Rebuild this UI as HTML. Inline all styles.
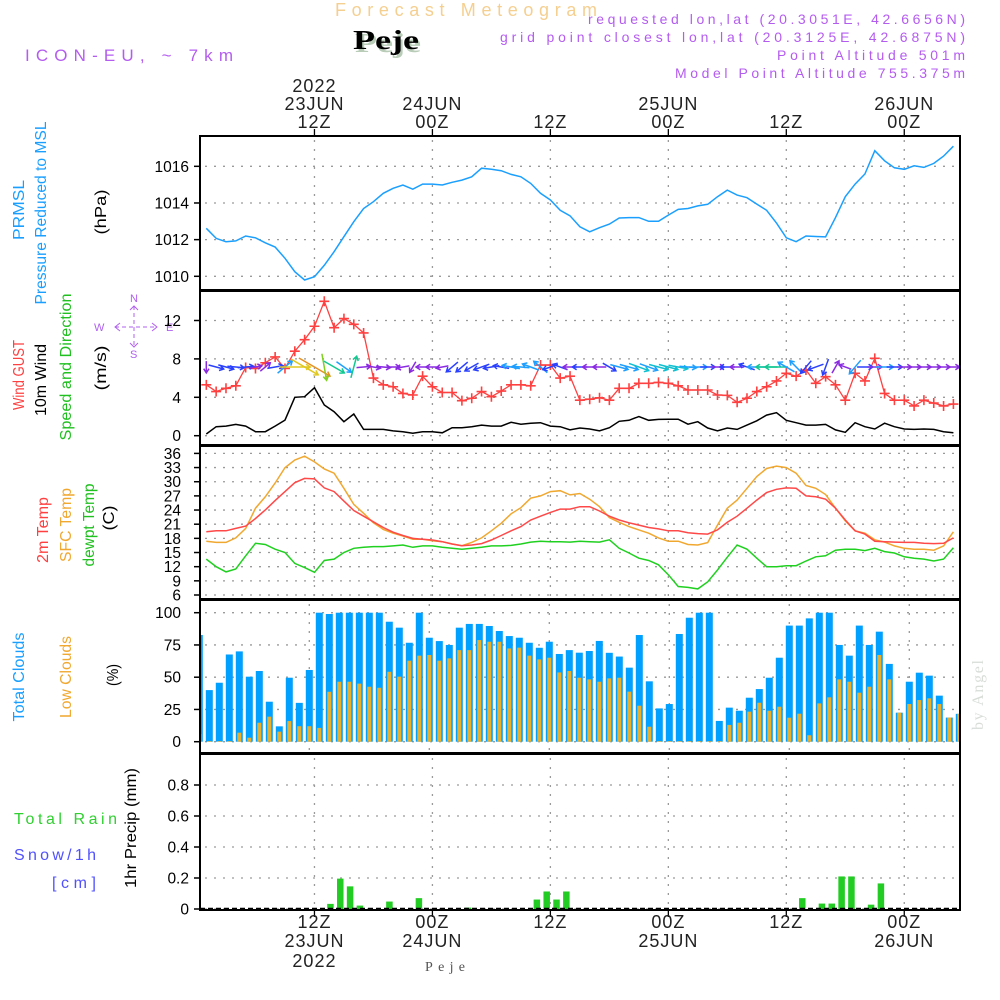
<!DOCTYPE html>
<html><head><meta charset="utf-8"><title>Forecast Meteogram Peje</title>
<style>
html,body{margin:0;padding:0;background:#fff;}
svg{display:block;font-family:"Liberation Sans","DejaVu Sans",sans-serif;}
</style></head>
<body>
<svg id="chart" width="1000" height="1000" viewBox="0 0 1000 1000" xmlns="http://www.w3.org/2000/svg">
<defs>
<clipPath id="cp1"><rect x="200" y="136" width="760" height="154"/></clipPath>
<clipPath id="cp2"><rect x="200" y="291" width="760" height="154"/></clipPath>
<clipPath id="cp3"><rect x="200" y="446" width="760" height="153"/></clipPath>
<clipPath id="cp4"><rect x="201" y="600" width="758" height="153"/></clipPath>
<clipPath id="cp5"><rect x="200" y="754" width="760" height="156"/></clipPath>
</defs>
<!-- header -->
<text x="335" y="16" font-size="18" fill="#f5cf90" textLength="262" lengthAdjust="spacing">Forecast Meteogram</text>
<text x="355" y="52" font-family="Liberation Serif,serif" font-weight="bold" font-size="27" fill="#b8ccb8" textLength="66" lengthAdjust="spacingAndGlyphs">Peje</text>
<text x="353" y="49" font-family="Liberation Serif,serif" font-weight="bold" font-size="27" fill="#000" textLength="66" lengthAdjust="spacingAndGlyphs">Peje</text>
<text x="25" y="61" font-size="17" fill="#b45cf0" textLength="208" lengthAdjust="spacing">ICON-EU, ~ 7km</text>
<g fill="#b45cf0" font-size="14" text-anchor="end">
<text x="965" y="24" textLength="377" lengthAdjust="spacing">requested lon,lat (20.3051E, 42.6656N)</text>
<text x="965" y="42" textLength="465" lengthAdjust="spacing">grid point closest lon,lat (20.3125E, 42.6875N)</text>
<text x="965" y="60" textLength="188" lengthAdjust="spacing">Point Altitude 501m</text>
<text x="965" y="78" textLength="290" lengthAdjust="spacing">Model Point Altitude 755.375m</text>
</g>
<!-- left labels -->
<g font-size="16" text-anchor="middle">
<text transform="translate(24,210) rotate(-90)" fill="#1a9fff" textLength="60" lengthAdjust="spacingAndGlyphs">PRMSL</text>
<text transform="translate(46,213) rotate(-90)" fill="#1a9fff" textLength="183" lengthAdjust="spacingAndGlyphs">Pressure Reduced to MSL</text>
<text transform="translate(106,212) rotate(-90)" fill="#000" textLength="45" lengthAdjust="spacingAndGlyphs">(hPa)</text>
<text transform="translate(24,375) rotate(-90)" fill="#ff4040" textLength="70" lengthAdjust="spacingAndGlyphs">Wind GUST</text>
<text transform="translate(46,380) rotate(-90)" fill="#000" textLength="72" lengthAdjust="spacingAndGlyphs">10m Wind</text>
<text transform="translate(71,367) rotate(-90)" fill="#20c020" textLength="147" lengthAdjust="spacingAndGlyphs">Speed and Direction</text>
<text transform="translate(106,368) rotate(-90)" fill="#000" textLength="45" lengthAdjust="spacingAndGlyphs">(m/s)</text>
<text transform="translate(48,530) rotate(-90)" fill="#ff4040" textLength="66" lengthAdjust="spacingAndGlyphs">2m Temp</text>
<text transform="translate(71,525) rotate(-90)" fill="#f0a830" textLength="74" lengthAdjust="spacingAndGlyphs">SFC Temp</text>
<text transform="translate(94,525) rotate(-90)" fill="#20c020" textLength="83" lengthAdjust="spacingAndGlyphs">dewpt Temp</text>
<text transform="translate(114,518) rotate(-90)" fill="#000" textLength="25" lengthAdjust="spacingAndGlyphs">(C)</text>
<text transform="translate(24,677) rotate(-90)" fill="#1a9fff" textLength="89" lengthAdjust="spacingAndGlyphs">Total Clouds</text>
<text transform="translate(71,677) rotate(-90)" fill="#f0a830" textLength="82" lengthAdjust="spacingAndGlyphs">Low Clouds</text>
<text transform="translate(118,675) rotate(-90)" fill="#000" textLength="22" lengthAdjust="spacingAndGlyphs">(%)</text>
<text transform="translate(136,828) rotate(-90)" fill="#000" textLength="120" lengthAdjust="spacingAndGlyphs">1hr Precip (mm)</text>
</g>
<text x="14" y="824" font-size="16" fill="#30d030" textLength="103" lengthAdjust="spacing">Total   Rain</text>
<text x="14" y="860" font-size="16" fill="#5050ff" textLength="82" lengthAdjust="spacing">Snow/1h</text>
<text x="52" y="888" font-size="16" fill="#5050ff" textLength="44" lengthAdjust="spacing">[cm]</text>
<!-- compass -->
<g fill="#b060f0" stroke="#b060f0" font-size="11">
<text x="130" y="302" stroke="none">N</text>
<text x="94" y="331" stroke="none">W</text>
<text x="166" y="331" stroke="none">E</text>
<text x="130" y="358" stroke="none">S</text>
<line x1="115" y1="327" x2="157" y2="327" stroke-width="1" stroke-dasharray="4,3"/>
<line x1="134" y1="306" x2="134" y2="347" stroke-width="1" stroke-dasharray="4,3"/>
<polyline points="120,323 115,327 120,331" fill="none" stroke-width="1"/>
<polyline points="152,323 157,327 152,331" fill="none" stroke-width="1"/>
<polyline points="130,310 134,306 138,310" fill="none" stroke-width="1"/>
<polyline points="130,343 134,347 138,343" fill="none" stroke-width="1"/>
</g>
<text transform="translate(983,730) rotate(-90)" font-family="Liberation Serif,serif" font-size="16" fill="#d8ddd8" textLength="70" lengthAdjust="spacing">by Angel</text>
<text x="425" y="971" font-family="Liberation Serif,serif" font-size="14" fill="#555" textLength="40" lengthAdjust="spacing">Peje</text>
<g id="grid"></g>
<g id="marks"></g>
<g id="frames"></g>
<g id="labels"></g>
</svg>
<script>
// ---- data (hourly, h = 1..77 from 23JUN 00Z) ----
const pressure = [1012.62,1012.07,1011.89,1011.93,1012.2,1012.1,1011.83,1011.6,1010.98,1010.25,1009.8,1009.98,1010.6,1011.34,1012.16,1012.98,1013.7,1014.07,1014.53,1014.8,1014.98,1014.75,1015.03,1015.03,1014.98,1015.13,1015.25,1015.43,1015.9,1015.84,1015.76,1015.56,1015.43,1015.07,1014.53,1014.16,1013.6,1013.3,1012.7,1012.43,1012.65,1012.85,1013.18,1013.2,1013.2,1013.0,1013.0,1013.34,1013.65,1013.7,1013.84,1013.93,1014.34,1014.7,1014.43,1014.29,1013.94,1013.6,1012.9,1012.1,1011.89,1012.2,1012.17,1012.15,1013.2,1014.34,1015.03,1015.58,1016.85,1016.3,1015.92,1015.84,1016.03,1015.94,1016.16,1016.56,1017.1];
const windSpeed = [0.18,0.94,1.0,1.18,1.0,0.42,0.42,1.0,1.63,4.0,4.06,5.0,3.2,2.5,1.46,2.26,0.66,0.66,0.66,0.5,0.42,0.25,0.42,0.42,0.3,0.83,0.83,0.94,1.1,1.0,1.0,1.4,1.2,1.3,1.35,1.0,0.94,0.6,0.8,0.7,0.5,0.83,1.5,1.6,2.0,1.6,1.7,1.72,1.72,1.2,1.46,0.8,0.5,0.8,0.66,1.1,1.55,2.15,2.4,1.6,1.35,1.1,1.1,1.18,0.6,0.35,1.35,0.94,0.7,1.3,0.94,0.7,0.66,0.7,0.66,0.42,0.3];
const windDir = [90,15,15,5,-5,-10,-40,-10,-40,0,30,30,80,30,35,-75,-5,10,5,0,170,120,180,180,170,140,140,150,160,170,190,190,185,200,220,160,200,180,180,180,180,30,15,15,20,20,15,15,10,5,0,0,0,180,180,200,180,180,180,210,225,130,160,110,-60,200,130,0,0,0,0,0,0,0,0,0,0];
const windGust = [5.3,4.6,4.94,5.2,7.1,7.0,7.6,8.2,7.0,8.8,10.0,11.4,14.0,11.25,12.2,11.6,10.7,6.0,5.3,5.1,4.4,4.24,6.2,5.1,4.5,4.5,3.65,3.9,4.6,4.06,4.65,5.3,5.3,5.2,7.36,7.36,6.0,6.2,3.7,3.8,3.95,3.7,4.94,4.94,5.46,5.46,5.55,5.46,5.2,4.76,4.76,4.76,4.24,4.2,3.48,3.9,4.6,5.1,5.7,6.5,6.2,6.84,5.46,6.15,5.3,3.7,6.5,5.7,8.06,4.4,3.7,3.7,3.1,3.7,3.4,3.1,3.3];
const temp2m = [19.4,19.6,19.6,20.1,20.6,22.2,24.0,26.0,27.9,29.8,30.7,30.6,28.7,27.9,25.9,23.9,22.7,21.5,20.3,19.3,18.6,18.0,17.8,17.65,17.3,16.8,16.45,16.6,16.9,17.65,18.6,19.6,20.5,21.9,22.7,23.5,24.2,24.2,24.7,24.7,23.8,22.7,21.9,21.3,20.8,20.3,20.0,19.6,19.6,19.2,19.0,18.9,19.8,21.4,22.7,24.4,26.1,27.7,28.4,28.7,28.6,27.0,26.8,26.3,24.4,21.9,19.6,18.9,17.4,17.3,17.2,17.15,17.15,16.95,16.9,16.95,18.1];
const sfcTemp = [17.4,17.15,17.15,18.1,20.1,24.4,26.8,29.7,33.0,34.6,35.4,34.2,32.7,31.8,28.6,25.2,23.3,21.3,19.9,19.1,18.5,17.8,17.8,17.5,17.3,16.8,16.45,17.15,18.1,19.6,21.2,23.2,24.5,26.5,27.0,27.9,28.1,27.2,27.5,26.3,24.7,22.4,21.4,20.5,19.8,19.1,18.1,17.4,17.4,16.7,16.6,17.1,20.8,24.4,26.1,28.6,31.1,32.8,33.3,33.0,31.8,29.2,28.6,27.3,24.4,21.7,19.6,19.1,17.7,17.2,16.4,15.9,15.7,15.7,15.5,16.4,19.4];
const dewpoint = [13.6,12.0,10.9,11.5,14.3,16.95,16.7,15.7,15.0,12.7,11.8,10.8,13.3,13.6,15.0,15.9,16.1,16.25,16.25,16.4,16.6,16.1,16.4,16.4,16.1,15.9,15.7,15.9,16.1,16.4,16.4,16.5,16.8,17.2,17.4,17.3,17.3,17.2,17.4,17.3,17.2,17.7,15.9,14.9,13.8,13.3,12.4,10.3,7.8,7.6,7.3,8.8,11.3,14.0,16.6,15.7,13.8,12.0,12.0,12.2,12.2,13.2,14.1,14.3,15.5,15.7,15.7,15.4,15.9,15.2,14.9,14.1,13.8,13.6,13.2,13.6,16.0];
const totalClouds = [82.7,40,45.7,67.6,70,50.4,54.8,31,11.9,49.6,30.1,55.6,100,99,100,100,100,100,100,93,88.4,76.7,100,80.6,78,75,88.4,91.3,91.3,89.7,85.8,81.9,80.6,76.7,72.8,77.5,68,71,69,70.3,78.1,68.9,66,57.4,82.7,46.8,25.8,29.2,83.5,96.1,100,100,16.1,26.4,24,34.1,40.8,49.6,65.1,90,90,95.6,100,100,75,66.7,90,75,85.3,60.3,22.5,46.5,53.5,51.2,35.7,18.7,21.6];
const lowClouds = [5.9,0.5,0.5,0.5,7,3.1,14.7,19.4,7.8,16,12,12,10.7,38.7,46.5,46.5,45,42.6,41.8,54.2,50.4,62.8,66.7,67.2,62.8,64.6,71,71,78.8,77.5,77.5,72.3,72.9,66.7,63.8,65.1,53.7,54.8,49.6,48.3,46.5,49.1,49.6,38.8,27.9,11.6,0.5,0.5,0.5,0.5,0.5,0.5,0.5,13,14.7,23.3,30.2,24,27.1,18.6,21.7,5,29.7,34.4,48.3,46.5,38,42.6,67.2,48.3,22.5,29.2,32.3,33.6,29.2,18.7,21.6];
const precipHours = [14,15,16,17,20,23,28,35,36,37,38,62,64,65,66,67,69,70];
const precipValues = [0.033,0.196,0.146,0.022,0.048,0.07,0.009,0.061,0.113,0.061,0.113,0.07,0.035,0.035,0.21,0.21,0.028,0.165];
const pressureTicks = [1010,1012,1014,1016];
const windTicks = [0,4,8,12];
const tempTicks = [6,9,12,15,18,21,24,27,30,33,36];
const cloudTicks = [0,25,50,75,100];
const precipTicks = [0,0.2,0.4,0.6,0.8];
const timeTickHours = [12,24,36,48,60,72];
const timeTopLabels = [["2022","23JUN","12Z"],["","24JUN","00Z"],["","","12Z"],["","25JUN","00Z"],["","","12Z"],["","26JUN","00Z"]];
const timeBottomLabels = [["12Z","23JUN","2022"],["00Z","24JUN",""],["12Z","",""],["00Z","25JUN",""],["12Z","",""],["00Z","26JUN",""]];

// ---- axis functions ----
const X = h => 196.5 + h * 9.83;
const X4 = h => 189.3 + h * 10;
const yP = p => 276.3 - (p - 1010) * 18.33;
const yW = v => 435.7 - v * 9.6;
const yT = t => 595 - (t - 6) * 4.72;
const yC = c => 741.7 - c * 1.29;
const yR = r => 909 - r * 155;

const NS = "http://www.w3.org/2000/svg";
function mk(tag, attrs, parent) {
  const el = document.createElementNS(NS, tag);
  for (const k in attrs) el.setAttribute(k, attrs[k]);
  parent.appendChild(el);
  return el;
}
const grid = document.getElementById('grid');
const marks = document.getElementById('marks');
const frames = document.getElementById('frames');
const labels = document.getElementById('labels');
const dot = {stroke:'#9a9a9a','stroke-width':1.3,'stroke-dasharray':'2,7'};

// horizontal grid + tick labels
const panels = [
  {ticks:pressureTicks, y:yP, fmt:v=>String(v), lx:189, name:'pressure'},
  {ticks:windTicks, y:yW, fmt:v=>String(v), lx:181, name:'wind'},
  {ticks:tempTicks, y:yT, fmt:v=>String(v), lx:181, name:'temp'},
  {ticks:cloudTicks, y:yC, fmt:v=>String(v), lx:181, name:'cloud'},
  {ticks:precipTicks, y:yR, fmt:v=>v===0?'0':v.toFixed(1), lx:189, name:'precip'}
];
panels.forEach(p => {
  p.ticks.forEach(v => {
    const yy = p.y(v);
    const g = mk('line', Object.assign({x1:205,x2:958,y1:yy,y2:yy}, dot), grid);
    
    
    const t = mk('line', {x1:194,x2:200,y1:yy,y2:yy,stroke:'#000','stroke-width':1.5}, frames);
    
    
    const tx = mk('text', {x:p.lx,y:yy+5.5,'font-size':15.5,'text-anchor':'end',fill:'#000'}, labels);
    
    
    tx.textContent = p.fmt(v);
  });
});
// vertical grid
const vpan = [[136,290,X],[291,445,X],[446,599,X],[600,753,X4],[754,910,X]];
timeTickHours.forEach(h => {
  vpan.forEach(v => {
    const xx = v[2](h);
    const l = mk('line', Object.assign({x1:xx,x2:xx,y1:v[0]+4,y2:v[1]-2}, dot), grid);
    
    
  });
  const t1 = mk('line', {x1:X(h),x2:X(h),y1:129,y2:136,stroke:'#000','stroke-width':1.3}, frames);
  
  
  const t2 = mk('line', {x1:X(h),x2:X(h),y1:910,y2:917,stroke:'#000','stroke-width':1.3}, frames);
  
  
});
timeTickHours.forEach((h, i) => {
  [92,110,128].forEach((yy, j) => {
    const s = timeTopLabels[i][j];
    if (!s) return;
    const t = mk('text', {x:X(h),y:yy,'font-size':18,'text-anchor':'middle',fill:'#222','letter-spacing':1}, labels);
    
    
    t.textContent = s;
  });
  [928,947,967].forEach((yy, j) => {
    const s = timeBottomLabels[i][j];
    if (!s) return;
    const t = mk('text', {x:X(h),y:yy,'font-size':18,'text-anchor':'middle',fill:'#222','letter-spacing':1}, labels);
    
    
    t.textContent = s;
  });
});

// frames
[[136,290],[291,445],[446,599],[600,753],[754,910]].forEach(f => {
  const r = mk('rect', {x:200,y:f[0],width:760,height:f[1]-f[0],fill:'none',stroke:'#000','stroke-width':2}, frames);
  
  
});
[290.5,445.5,599.5,753.5].forEach(yy => {
  const l = mk('line', {x1:200,x2:960,y1:yy,y2:yy,stroke:'#000','stroke-width':3}, frames);
  
  
});

// line series helper
function pts(arr, yf) { return arr.map((v, i) => X(i + 1).toFixed(1) + ',' + yf(v).toFixed(1)).join(' '); }

// clouds
const g4 = mk('g', {'clip-path':'url(#cp4)'}, marks);


totalClouds.forEach((c, i) => {
  const xx = X4(i + 1);
  const b = mk('rect', {x:xx-3.5,y:yC(c),width:7,height:yC(0)-yC(c),fill:'#00a0ff'}, g4);
  
  
});
lowClouds.forEach((c, i) => {
  const xx = X4(i + 1);
  const b = mk('rect', {x:xx-2,y:yC(c),width:4,height:yC(0)-yC(c),fill:'#e8b030'}, g4);
  
  
});

// precip
const g5 = mk('g', {'clip-path':'url(#cp5)'}, marks);


precipHours.forEach((h, i) => {
  const xx = X(h - 0.4);
  const b = mk('rect', {x:xx-3,y:yR(precipValues[i]),width:6.5,height:yR(0)-yR(precipValues[i]),fill:'#22cc22'}, g5);
  
  
});
const snowLine = mk('line', {x1:200,x2:960,y1:yR(0)-0.5,y2:yR(0)-0.5,stroke:'#000','stroke-width':1.5,'stroke-dasharray':'5,3'}, g5);



// pressure
const pl = mk('polyline', {points:pts(pressure, yP),fill:'none',stroke:'#1a9fff','stroke-width':1.5,'clip-path':'url(#cp1)'}, marks);



// temps
const tl3 = mk('g', {'clip-path':'url(#cp3)'}, marks);


const dl = mk('polyline', {points:pts(dewpoint, yT),fill:'none',stroke:'#20d020','stroke-width':1.5}, tl3);


const sl = mk('polyline', {points:pts(sfcTemp, yT),fill:'none',stroke:'#f0a830','stroke-width':1.5}, tl3);


const rl = mk('polyline', {points:pts(temp2m, yT),fill:'none',stroke:'#ff4848','stroke-width':1.5}, tl3);



// wind panel
const g2 = mk('g', {'clip-path':'url(#cp2)'}, marks);


const wl = mk('polyline', {points:pts(windSpeed, yW),fill:'none',stroke:'#000','stroke-width':1.5}, g2);


const gl = mk('polyline', {points:pts(windGust, yW),fill:'none',stroke:'#ff4040','stroke-width':1.3}, g2);


windGust.forEach((v, i) => {
  const cx = X(i + 1), cy = yW(v);
  const m = mk('path', {d:`M${cx-5},${cy}H${cx+5}M${cx},${cy-5}V${cy+5}`,stroke:'#ff4040','stroke-width':1.6}, g2);
  
  
});
function arrowColor(s) {
  if (s < 0.75) return '#8a2be2';
  if (s < 1.2) return '#2a40ff';
  if (s < 1.65) return '#1e9fff';
  if (s < 2.1) return '#10c0d0';
  if (s < 2.7) return '#10c890';
  if (s < 3.5) return '#80d020';
  if (s < 4.5) return '#e0c820';
  return '#e89020';
}
windDir.forEach((d, i) => {
  const s = windSpeed[i];
  const cx = X(i + 1), cy = 367;
  const L = 11 + s * 5;
  const a = d * Math.PI / 180;
  const x1 = cx - Math.cos(a) * L / 2, y1 = cy - Math.sin(a) * L / 2;
  const x2 = cx + Math.cos(a) * L / 2, y2 = cy + Math.sin(a) * L / 2;
  const h1 = a + Math.PI * 0.82, h2 = a - Math.PI * 0.82;
  const dstr = `M${x1.toFixed(1)},${y1.toFixed(1)}L${x2.toFixed(1)},${y2.toFixed(1)}M${(x2+Math.cos(h1)*5).toFixed(1)},${(y2+Math.sin(h1)*5).toFixed(1)}L${x2.toFixed(1)},${y2.toFixed(1)}L${(x2+Math.cos(h2)*5).toFixed(1)},${(y2+Math.sin(h2)*5).toFixed(1)}`;
  const ar = mk('path', {d:dstr,fill:'none',stroke:arrowColor(s),'stroke-width':1.5}, g2);
  
  
});
</script>
</body></html>
